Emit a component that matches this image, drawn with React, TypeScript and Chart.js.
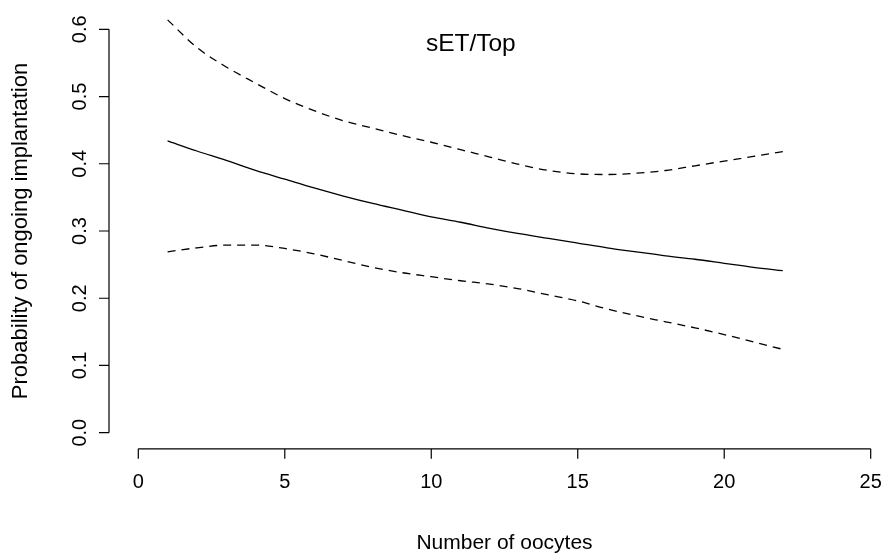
import React, { useEffect, useRef } from "react";
import { Chart, registerables } from "chart.js";

Chart.register(...registerables);

// Number of oocytes retrieved
const oocytes = [1, 2, 3, 4, 5, 6, 7, 8, 9, 10, 11, 12, 13, 14, 15, 16, 17, 18, 19, 20, 21, 22];

// Fitted probability of ongoing implantation
const fitted = [0.434, 0.419, 0.405, 0.39, 0.377, 0.364, 0.352, 0.341, 0.331, 0.321, 0.313,
  0.304, 0.296, 0.289, 0.282, 0.275, 0.269, 0.263, 0.258, 0.252, 0.246, 0.241];

// Upper and lower confidence limits
const upper = [0.614, 0.573, 0.544, 0.52, 0.497, 0.479, 0.464, 0.453, 0.442, 0.432, 0.421,
  0.41, 0.399, 0.39, 0.385, 0.384, 0.386, 0.39, 0.397, 0.404, 0.411, 0.418];
const lower = [0.269, 0.275, 0.279, 0.279, 0.274, 0.266, 0.256, 0.246, 0.238, 0.232, 0.226,
  0.221, 0.214, 0.205, 0.196, 0.184, 0.174, 0.165, 0.156, 0.146, 0.135, 0.124];

const xTicks = [0, 5, 10, 15, 20, 25];
const yTicks = [0.0, 0.1, 0.2, 0.3, 0.4, 0.5, 0.6];

const chartTitle = "sET/Top";
const xTitle = "Number of oocytes";
const yTitle = "Probability of ongoing implantation";

const FONT = "'Liberation Sans', Arial, Helvetica, sans-serif";

const toPoints = (ys: number[]) => oocytes.map((x, i) => ({ x, y: ys[i] }));

// Base-graphics style axes: lines span first to last tick, offset from the plot area
const baseAxes = {
  id: "baseAxes",
  afterDraw(chart: any) {
    const { ctx, chartArea, scales } = chart;
    const xs = scales.x;
    const ys = scales.y;
    const w = chartArea.right - chartArea.left;
    const h = chartArea.bottom - chartArea.top;
    const axisX = chartArea.left - 0.04 * w;
    const axisY = chartArea.bottom + 0.04 * h;
    const tick = 10;

    ctx.save();
    ctx.strokeStyle = "#000";
    ctx.fillStyle = "#000";
    ctx.lineWidth = 1.2;
    ctx.setLineDash([]);

    // x axis
    const x0 = xs.getPixelForValue(xTicks[0]);
    const x1 = xs.getPixelForValue(xTicks[xTicks.length - 1]);
    ctx.beginPath();
    ctx.moveTo(x0, axisY);
    ctx.lineTo(x1, axisY);
    xTicks.forEach((t) => {
      const px = xs.getPixelForValue(t);
      ctx.moveTo(px, axisY);
      ctx.lineTo(px, axisY + tick);
    });
    ctx.stroke();

    ctx.font = `20px ${FONT}`;
    ctx.textAlign = "center";
    ctx.textBaseline = "middle";
    xTicks.forEach((t) => {
      ctx.fillText(String(t), xs.getPixelForValue(t), axisY + 34);
    });

    // y axis
    const y0 = ys.getPixelForValue(yTicks[0]);
    const y1 = ys.getPixelForValue(yTicks[yTicks.length - 1]);
    ctx.beginPath();
    ctx.moveTo(axisX, y0);
    ctx.lineTo(axisX, y1);
    yTicks.forEach((t) => {
      const py = ys.getPixelForValue(t);
      ctx.moveTo(axisX, py);
      ctx.lineTo(axisX - tick, py);
    });
    ctx.stroke();

    yTicks.forEach((t) => {
      const py = ys.getPixelForValue(t);
      ctx.save();
      ctx.translate(axisX - 29, py);
      ctx.rotate(-Math.PI / 2);
      ctx.fillText(t.toFixed(1), 0, 0);
      ctx.restore();
    });

    // axis titles
    const midX = (chartArea.left + chartArea.right) / 2;
    const midY = (chartArea.top + chartArea.bottom) / 2;
    ctx.font = `21px ${FONT}`;
    ctx.fillText(xTitle, midX, axisY + 94);

    ctx.font = `22px ${FONT}`;
    ctx.save();
    ctx.translate(axisX - 88, midY);
    ctx.rotate(-Math.PI / 2);
    ctx.fillText(yTitle, 0, 0);
    ctx.restore();

    // panel title
    ctx.font = `24.5px ${FONT}`;
    ctx.fillText(chartTitle, chartArea.left + 0.454 * w, chartArea.top + 15);

    ctx.restore();
  },
};

export default function App() {
  const canvasRef = useRef<HTMLCanvasElement | null>(null);

  useEffect(() => {
    if (!canvasRef.current) return;
    const line = {
      borderColor: "#000",
      borderWidth: 1.3,
      pointRadius: 0,
      fill: false,
      cubicInterpolationMode: "monotone" as const,
      clip: false as any,
    };
    const chart = new Chart(canvasRef.current, {
      type: "line",
      data: {
        datasets: [
          { ...line, label: "fit", data: toPoints(fitted) },
          { ...line, label: "upper", data: toPoints(upper), borderDash: [8, 6] },
          { ...line, label: "lower", data: toPoints(lower), borderDash: [8, 6] },
        ],
      },
      options: {
        animation: false,
        responsive: true,
        maintainAspectRatio: false,
        layout: { padding: { left: 138.3, right: 14.3, top: 29.3, bottom: 122.3 } },
        plugins: { legend: { display: false }, tooltip: { enabled: false } },
        scales: {
          x: { type: "linear", min: 0, max: 25, display: false },
          y: { type: "linear", min: 0, max: 0.6, display: false },
        },
      },
      plugins: [baseAxes],
    });
    return () => chart.destroy();
  }, []);

  return (
    <div style={{ position: "fixed", left: 0, top: 0, width: 885, height: 555, background: "#fff" }}>
      <canvas ref={canvasRef} />
    </div>
  );
}
